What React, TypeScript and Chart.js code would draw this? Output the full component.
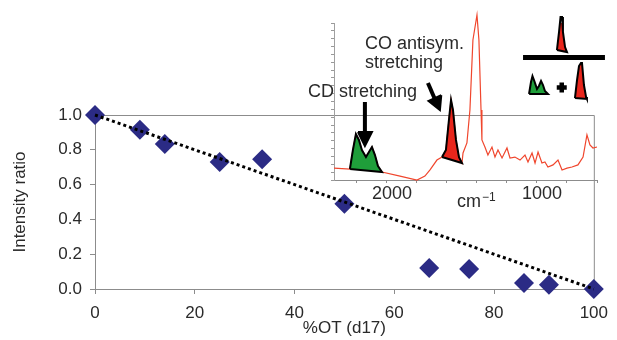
import React, { useEffect, useRef } from "react";
import { Chart, registerables } from "chart.js";
Chart.register(...registerables);

// ---- main chart data ----
const otPercent = [0, 9, 14, 25, 33.5, 50, 67, 75, 86, 91, 100];
const intensityRatio = [1.0, 0.915, 0.833, 0.73, 0.745, 0.49, 0.12, 0.115, 0.034, 0.025, 0.0];
const trendX = [0, 100];
const trendY = [1.0, 0.0];
const xTickValues = [0, 20, 40, 60, 80, 100];
const yTickValues = [0, 0.2, 0.4, 0.6, 0.8, 1.0];

// ---- inset spectrum data (wavenumber cm-1, absorbance) ----
const spectrumWn = [2353, 2247, 2227, 2207, 2187, 2167, 2140, 2120, 2100, 2080, 2060, 2033, 1913, 1800, 1747, 1713, 1667, 1633, 1607, 1587, 1573, 1560, 1540, 1520, 1500, 1493, 1467, 1447, 1427, 1400, 1387, 1373, 1367, 1347, 1327, 1300, 1280, 1260, 1233, 1200, 1180, 1147, 1113, 1080, 1060, 1033, 1013, 993, 967, 947, 927, 893, 860, 833, 800, 767, 727, 693, 667, 647, 627, 600];
const spectrumAbs = [0.076, 0.07, 0.191, 0.293, 0.255, 0.191, 0.146, 0.178, 0.21, 0.159, 0.089, 0.051, 0.025, 0.0, 0.025, 0.064, 0.127, 0.146, 0.191, 0.382, 0.51, 0.446, 0.255, 0.146, 0.108, 0.172, 0.236, 0.446, 0.892, 1.051, 0.892, 0.446, 0.255, 0.21, 0.159, 0.21, 0.146, 0.191, 0.14, 0.204, 0.14, 0.146, 0.127, 0.159, 0.115, 0.172, 0.108, 0.178, 0.108, 0.115, 0.083, 0.096, 0.127, 0.064, 0.076, 0.083, 0.096, 0.146, 0.287, 0.223, 0.204, 0.21];

const cdPeakWn = [2247, 2227, 2207, 2187, 2167, 2140, 2120, 2100, 2080, 2060, 2033, 2247];
const cdPeakAbs = [0.07, 0.191, 0.293, 0.255, 0.191, 0.146, 0.178, 0.21, 0.159, 0.089, 0.051, 0.07];
const coPeakWn = [1633, 1607, 1587, 1573, 1560, 1540, 1520, 1500, 1633];
const coPeakAbs = [0.146, 0.191, 0.382, 0.51, 0.446, 0.255, 0.146, 0.108, 0.146];

// ratio icon (drawn in the inset's coordinates)
const iconTopWn = [867, 853, 843, 833, 827, 813, 800, 867];
const iconTopAbs = [0.828, 0.943, 1.038, 1.038, 0.943, 0.847, 0.815, 0.828];
const iconBarWn = [1093, 547];
const iconBarAbs = [0.78, 0.78];
const iconGreenWn = [1053, 1040, 1030, 1020, 1000, 987, 973, 960, 947, 927, 1053];
const iconGreenAbs = [0.548, 0.624, 0.662, 0.637, 0.58, 0.599, 0.631, 0.605, 0.567, 0.548, 0.548];
const iconPlusWn = [835];
const iconPlusAbs = [0.589];
const iconRedWn = [747, 733, 720, 707, 700, 687, 673, 667, 747];
const iconRedAbs = [0.522, 0.637, 0.726, 0.745, 0.745, 0.605, 0.529, 0.516, 0.522];

// arrows
const arrow1ShaftWn = [2147, 2147];
const arrow1ShaftAbs = [0.497, 0.3];
const arrow1HeadWn = [2193, 2100, 2147, 2193];
const arrow1HeadAbs = [0.306, 0.306, 0.217, 0.306];
const arrow2ShaftWn = [1727, 1678];
const arrow2ShaftAbs = [0.618, 0.51];
const arrow2HeadWn = [1638, 1723, 1647, 1638];
const arrow2HeadAbs = [0.541, 0.503, 0.446, 0.541];

const insetTickValues = [2200, 2000, 1800, 1600, 1400, 1200, 1000, 800, 600];
const insetLabelled = [2000, 1000];

const FONT = "'Liberation Sans', Arial, Helvetica, sans-serif";
const TEXT = "#2a2a2a";
const AXIS = "#8c8c8c";

const pts = (xs: number[], ys: number[]) => xs.map((x, i) => ({ x, y: ys[i] }));

const framePlugin = {
  id: "frame",
  beforeDatasetsDraw(chart: any) {
    const { ctx, chartArea: a } = chart;
    ctx.save();
    ctx.strokeStyle = AXIS;
    ctx.lineWidth = 1;
    ctx.beginPath();
    ctx.moveTo(a.left, a.top + 0.5);
    ctx.lineTo(a.right + 0.5, a.top + 0.5);
    ctx.lineTo(a.right + 0.5, a.bottom);
    ctx.stroke();
    ctx.restore();
  },
};

const insetTextPlugin = {
  id: "insetText",
  afterDraw(chart: any) {
    const { ctx } = chart;
    ctx.save();
    ctx.fillStyle = TEXT;
    ctx.textBaseline = "alphabetic";
    ctx.textAlign = "left";
    ctx.font = `18px ${FONT}`;
    ctx.fillText("CO antisym.", 65, 49);
    ctx.fillText("stretching", 65, 68);
    ctx.fillText("CD stretching", 8, 97);
    ctx.font = `18px ${FONT}`;
    ctx.fillText("cm", 157, 207);
    ctx.font = `12px ${FONT}`;
    ctx.fillText("\u22121", 182, 201);
    ctx.restore();
  },
};

export default function App() {
  const mainRef = useRef<HTMLCanvasElement | null>(null);
  const insetRef = useRef<HTMLCanvasElement | null>(null);

  useEffect(() => {
    const main = new Chart(mainRef.current as HTMLCanvasElement, {
      type: "scatter",
      data: {
        datasets: [
          {
            data: pts(trendX, trendY),
            showLine: true,
            borderColor: "#000",
            borderWidth: 3,
            borderDash: [3, 3],
            pointRadius: 0,
            clip: false,
            order: 0,
          } as any,
          {
            data: pts(otPercent, intensityRatio),
            pointStyle: "rectRot",
            pointRadius: 10,
            backgroundColor: "#2b2b85",
            borderColor: "#2b2b85",
            borderWidth: 0,
            clip: false,
            order: 1,
          },
        ],
      },
      options: {
        responsive: false,
        animation: false,
        events: [],
        layout: { padding: { top: 115, right: 17, left: 0, bottom: 0 } },
        plugins: { legend: { display: false }, tooltip: { enabled: false } },
        scales: {
          x: {
            type: "linear",
            min: 0,
            max: 100,
            afterFit: (s: any) => { s.height = 51; },
            afterBuildTicks: (s: any) => { s.ticks = xTickValues.map((v) => ({ value: v })); },
            ticks: { font: { family: FONT, size: 17 }, color: TEXT, padding: 9, maxRotation: 0 },
            grid: { drawOnChartArea: false, tickLength: 5, tickColor: AXIS },
            border: { color: AXIS, width: 1 },
            title: { display: true, text: "%OT (d17)", font: { family: FONT, size: 17 }, color: TEXT, padding: { top: 0, bottom: 1 } },
          },
          y: {
            type: "linear",
            min: 0,
            max: 1,
            afterFit: (s: any) => { s.width = 95; },
            afterBuildTicks: (s: any) => { s.ticks = yTickValues.map((v) => ({ value: v })); },
            ticks: { font: { family: FONT, size: 17 }, color: TEXT, padding: 8, callback: (v: any) => Number(v).toFixed(1) },
            grid: { drawOnChartArea: false, tickLength: 5, tickColor: AXIS },
            border: { color: AXIS, width: 1 },
            title: { display: true, text: "Intensity ratio", font: { family: FONT, size: 17 }, color: TEXT, padding: { top: 10, bottom: 0 } },
          },
        },
      },
      plugins: [framePlugin],
    });

    const poly = (xs: number[], ys: number[], fill: string, order: number) => ({
      data: pts(xs, ys),
      borderColor: "#000",
      borderWidth: 2,
      backgroundColor: fill,
      fill: "shape",
      pointRadius: 0,
      tension: 0,
      clip: false,
      order,
    });
    const stroke = (xs: number[], ys: number[], width: number, order: number) => ({
      data: pts(xs, ys),
      borderColor: "#000",
      borderWidth: width,
      fill: false,
      pointRadius: 0,
      clip: false,
      order,
    });

    const inset = new Chart(insetRef.current as HTMLCanvasElement, {
      type: "line",
      data: {
        datasets: [
          {
            data: pts(spectrumWn, spectrumAbs),
            borderColor: "#f0462d",
            borderWidth: 1.2,
            fill: false,
            pointRadius: 0,
            clip: false,
            order: 10,
          },
          poly(cdPeakWn, cdPeakAbs, "#1f9e3a", 5),
          poly(coPeakWn, coPeakAbs, "#e8261c", 5),
          poly(iconTopWn, iconTopAbs, "#e8261c", 4),
          stroke(iconBarWn, iconBarAbs, 5, 4),
          poly(iconGreenWn, iconGreenAbs, "#1f9e3a", 4),
          {
            data: pts(iconPlusWn, iconPlusAbs),
            showLine: false,
            pointStyle: "cross",
            pointRadius: 5,
            borderColor: "#000",
            borderWidth: 4.5,
            clip: false,
            order: 4,
          },
          poly(iconRedWn, iconRedAbs, "#e8261c", 4),
          stroke(arrow1ShaftWn, arrow1ShaftAbs, 4, 1),
          poly(arrow1HeadWn, arrow1HeadAbs, "#000", 1),
          stroke(arrow2ShaftWn, arrow2ShaftAbs, 4, 1),
          poly(arrow2HeadWn, arrow2HeadAbs, "#000", 1),
        ] as any,
      },
      options: {
        responsive: false,
        animation: false,
        events: [],
        layout: { padding: { top: 23, right: 20, left: 0, bottom: 0 } },
        plugins: { legend: { display: false }, tooltip: { enabled: false } },
        scales: {
          x: {
            type: "linear",
            reverse: true,
            min: 600,
            max: 2353,
            afterFit: (s: any) => { s.height = 35; },
            afterBuildTicks: (s: any) => { s.ticks = insetTickValues.map((v) => ({ value: v })); },
            ticks: {
              font: { family: FONT, size: 18 },
              color: TEXT,
              padding: 0,
              autoSkip: false,
              maxRotation: 0,
              labelOffset: 5,
              callback: (v: any) => (insetLabelled.includes(Number(v)) ? String(v) : ""),
            },
            grid: { drawOnChartArea: false, tickLength: 3, tickColor: AXIS },
            border: { color: AXIS, width: 1 },
          },
          y: {
            type: "linear",
            min: 0,
            max: 1,
            afterFit: (s: any) => { s.width = 34; },
            ticks: { display: false, stepSize: 0.05 },
            grid: { drawOnChartArea: false, tickLength: 3, tickColor: "#999" },
            border: { color: "#a0a0a0", width: 1, dash: [1, 2] },
          },
        },
      },
      plugins: [insetTextPlugin],
    });

    return () => {
      main.destroy();
      inset.destroy();
    };
  }, []);

  return (
    <div style={{ position: "fixed", left: 0, top: 0, width: 617, height: 340, background: "#fff" }}>
      <canvas ref={mainRef} width={617} height={340} style={{ position: "absolute", left: 0, top: 0, width: 617, height: 340 }} />
      <canvas ref={insetRef} width={317} height={215} style={{ position: "absolute", left: 300, top: 0, width: 317, height: 215 }} />
    </div>
  );
}
